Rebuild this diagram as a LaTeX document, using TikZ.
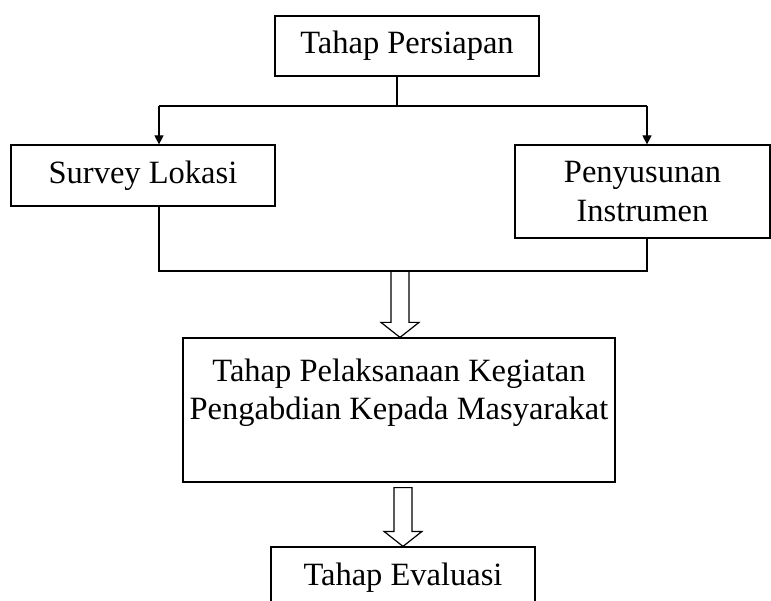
\documentclass[tikz,border=0pt]{standalone}
\usepackage{fontspec}
\setmainfont{Liberation Serif}
\usetikzlibrary{positioning,calc,arrows.meta}

\tikzset{
  stagebox/.style={draw, line width=1.2pt, inner sep=0pt, align=center},
  flow/.style={line width=1.2pt},
  smallarrow/.style={flow, -{Triangle[width=9pt,length=9pt]}},
}

% hollow block arrow from #1 down to the tip #2
\newcommand{\hollowarrow}[2]{%
  \draw[flow, line join=miter] ($(#1)+(-9,0)$) -- ($(#2)+(-9,-15)$) -- ($(#2)+(-19,-15)$)
    -- (#2) -- ($(#2)+(19,-15)$) -- ($(#2)+(9,-15)$) -- ($(#1)+(9,0)$) -- cycle;}

\begin{document}
\begin{tikzpicture}[x=1pt, y=-1pt, font=\fontsize{32.5}{38.5}\selectfont]
  \useasboundingbox (0,0) rectangle (771,601);
  \clip (0,0) rectangle (771,601);

  % Stage boxes
  \node[stagebox, minimum width=264, minimum height=60] (persiapan) at (407,46) {Tahap Persiapan};
  \node[stagebox, minimum width=264, minimum height=61] (survey) at (143,175.5) {Survey Lokasi};
  \node[stagebox, minimum width=255, minimum height=93] (penyusunan) at (642.5,191.5) {Penyusunan\\Instrumen};
  \node[stagebox, minimum width=432, minimum height=144] (pelaksanaan) at (399,410) {};
  \node[align=center, below=18pt of pelaksanaan.north] (pelaksanaantext) {Tahap Pelaksanaan Kegiatan\\Pengabdian Kepada Masyarakat};
  \node[stagebox, minimum width=264, minimum height=62] (evaluasi) at (403,578) {Tahap Evaluasi};

  % Split from Tahap Persiapan
  \coordinate (split) at (397,106);
  \coordinate (splitL) at (159,106);
  \coordinate (splitR) at (647,106);
  \draw[flow] (persiapan.south -| split) -- (split);
  \draw[flow] (splitL) -- (splitR);
  \draw[smallarrow] (splitL) -- (splitL |- survey.north);
  \draw[smallarrow] (splitR) -- (splitR |- penyusunan.north);

  % Join below the two boxes
  \coordinate (joinL) at (159,271);
  \coordinate (joinR) at (647,271);
  \coordinate (joinM) at (400,271);
  \draw[flow] (joinL |- survey.south) -- (joinL) -- (joinR) -- (joinR |- penyusunan.south);

  % Hollow arrows
  \hollowarrow{joinM}{pelaksanaan.north -| joinM}
  \coordinate (evalstart) at ($(evaluasi.north |- pelaksanaan.south)+(0,5)$);
  \hollowarrow{evalstart}{evaluasi.north}
\end{tikzpicture}
\end{document}
